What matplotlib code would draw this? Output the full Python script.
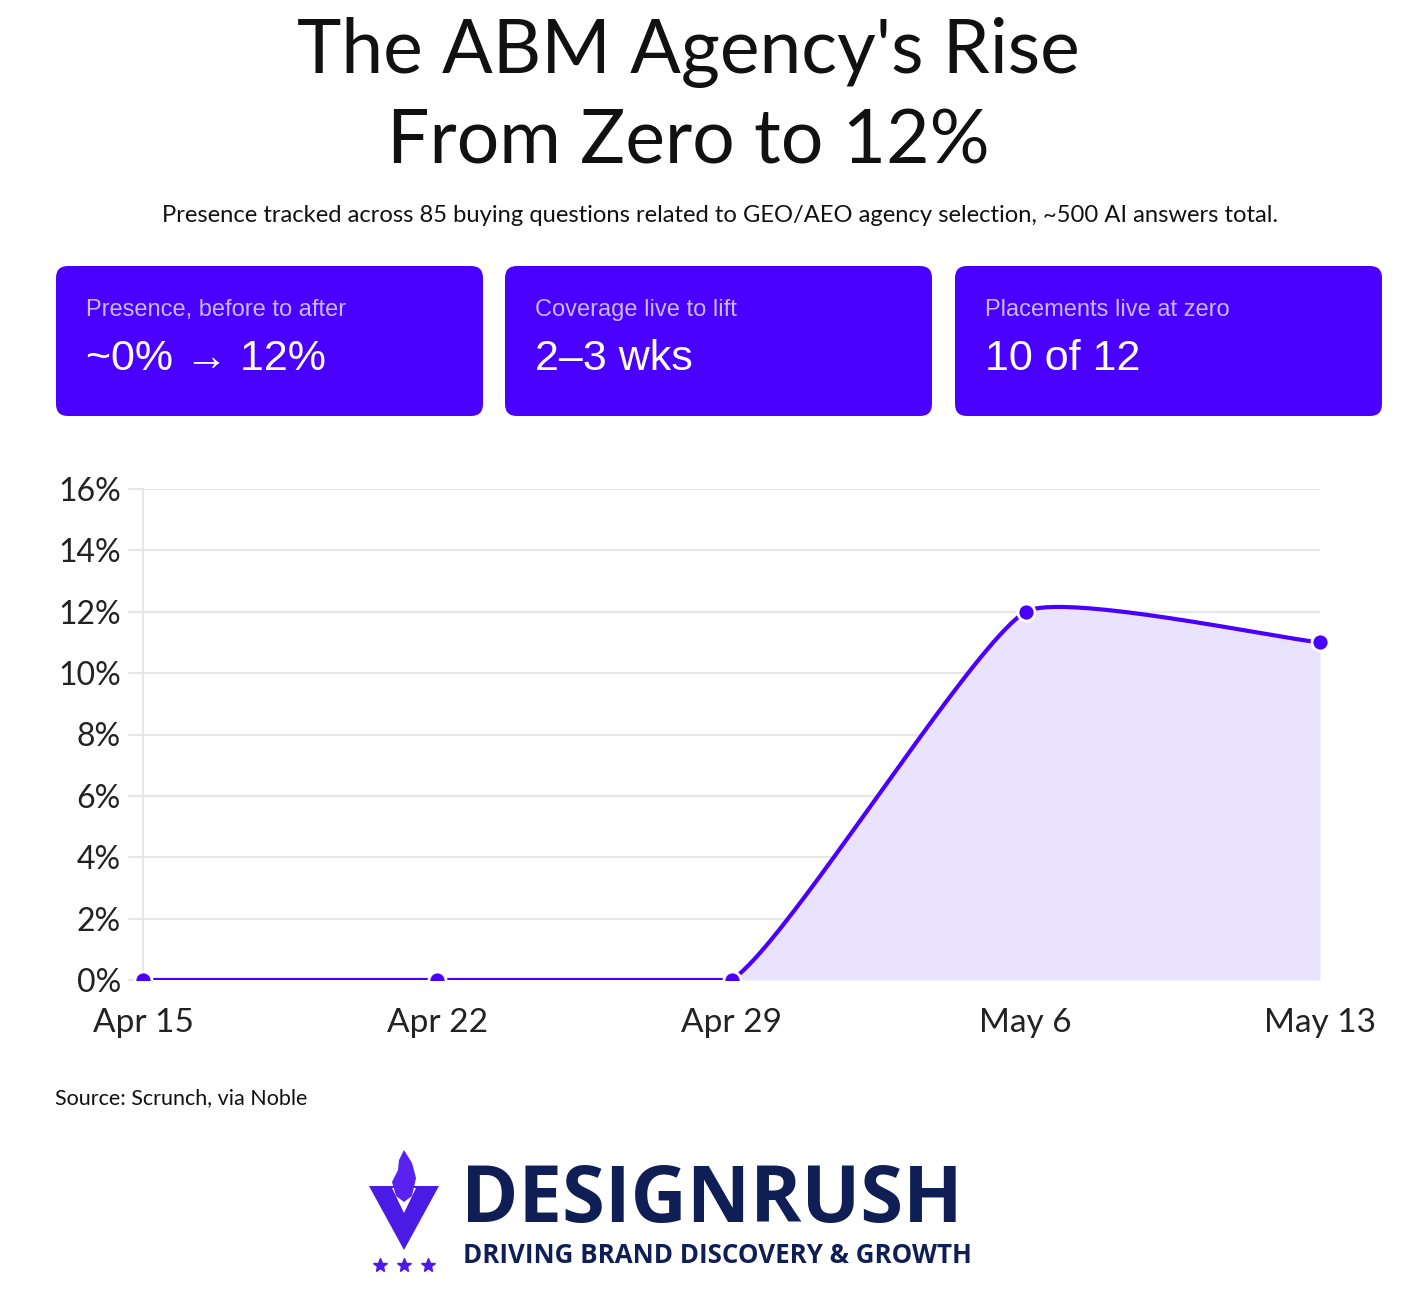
import numpy as np
import matplotlib
matplotlib.use("Agg")
import matplotlib.pyplot as plt
from matplotlib.patches import FancyBboxPatch, Polygon, Rectangle

# data
dates = ["Apr 15", "Apr 22", "Apr 29", "May 6", "May 13"]
presence = [0, 0, 0, 12, 11]
y_ticks = [0, 2, 4, 6, 8, 10, 12, 14, 16]
card_labels = ["Presence, before to after", "Coverage live to lift", "Placements live at zero"]
card_values = ["~0% \u2192 12%", "2\u20133 wks", "10 of 12"]

W, H = 1424, 1298
PURPLE = "#4a00ff"
FILL = "#e9e3ff"
GRID = "#e6e6e6"
NAVY = "#0f1f55"

fig = plt.figure(figsize=(W / 100, H / 100), dpi=100)

# overlay in pixel coordinates for titles, cards and logo
ov = fig.add_axes([0, 0, 1, 1])
ov.set_xlim(0, W)
ov.set_ylim(H, 0)
ov.axis("off")

ov.text(688, 53, "The ABM Agency's Rise", ha="center", va="center",
        fontsize=54, family="Lato", color="#111111")
ov.text(688, 142, "From Zero to 12%", ha="center", va="center",
        fontsize=54, family="Lato", color="#111111")
ov.text(720, 215, "Presence tracked across 85 buying questions related to GEO/AEO agency selection, ~500 AI answers total.",
        ha="center", va="center", fontsize=17.1, family="Lato", color="#111111")

card_x = [56, 505, 955]
for cx, lab, val in zip(card_x, card_labels, card_values):
    ov.add_patch(FancyBboxPatch((cx + 12, 266 + 12), 427 - 24, 150 - 24,
                                boxstyle="round,pad=12", fc=PURPLE, ec="none"))
    ov.text(cx + 30, 310, lab, ha="left", va="center", fontsize=17,
            family=["Liberation Sans", "DejaVu Sans"], color="#c9b8ff")
    ov.text(cx + 30, 359, val, ha="left", va="center", fontsize=31,
            family=["Liberation Sans", "DejaVu Sans"], color="white")

ov.text(55, 1098, "Source: Scrunch, via Noble", ha="left", va="center",
        fontsize=15.5, family="Lato", color="#111111")

# logo
ov.add_patch(Polygon([(369, 1186), (439, 1186), (404, 1250)], closed=True, fc="#4b1be6", ec="none"))
ov.add_patch(Polygon([(392, 1188), (416, 1188), (404, 1213)], closed=True, fc="white", ec="none"))
flame = [(404, 1150), (412, 1163), (416, 1178), (412, 1196), (404, 1202),
         (396, 1196), (392, 1182), (398, 1170), (399, 1160)]
ov.add_patch(Polygon(flame, closed=True, fc="#5a22f0", ec="none"))
ov.plot([380, 404, 428], [1265, 1265, 1265], ls="none", marker="*", ms=10, color="#4b1be6")
ov.text(461, 1222, "DESIGNRUSH", ha="left", va="baseline", fontsize=56,
        family="Open Sans", weight="bold", color=NAVY)
ov.text(463, 1263, "DRIVING BRAND DISCOVERY & GROWTH", ha="left", va="baseline",
        fontsize=18.6, family="Open Sans", weight="bold", color=NAVY)

# chart
ax = fig.add_axes([143 / W, 1 - 980 / H, (1320 - 143) / W, (980 - 489) / H])
x = np.arange(len(dates))
y = np.array(presence, dtype=float)

# smooth curve through points (cardinal-style bezier, computed in pixel scale)
sx, sy = (1320 - 143) / 4, (980 - 489) / 16
P = np.column_stack([x * sx, y * sy])
tension = 0.15
n = len(P)
cp_in, cp_out = [], []
for i in range(n):
    prev = P[i - 1] if i > 0 else P[i]
    nxt = P[i + 1] if i < n - 1 else P[i]
    d01 = np.hypot(*(P[i] - prev))
    d12 = np.hypot(*(nxt - P[i]))
    tot = d01 + d12
    s01 = d01 / tot if tot else 0
    s12 = d12 / tot if tot else 0
    a = P[i] - tension * s01 * (nxt - prev)
    b = P[i] + tension * s12 * (nxt - prev)
    a[1] = min(max(a[1], 0), 16 * sy)
    b[1] = min(max(b[1], 0), 16 * sy)
    cp_in.append(a)
    cp_out.append(b)
ts = np.linspace(0, 1, 80)[:, None]
curve = []
for i in range(n - 1):
    p0, p1, p2, p3 = P[i], cp_out[i], cp_in[i + 1], P[i + 1]
    seg = ((1 - ts) ** 3) * p0 + 3 * ((1 - ts) ** 2) * ts * p1 + 3 * (1 - ts) * ts ** 2 * p2 + ts ** 3 * p3
    curve.append(seg)
curve = np.vstack(curve)
cx_, cy_ = curve[:, 0] / sx, curve[:, 1] / sy

ax.fill_between(cx_, cy_, 0, color=FILL, lw=0, zorder=1)
ax.plot(cx_, cy_, color=PURPLE, lw=3, zorder=3, solid_capstyle="round")
pts = ax.scatter(x, y, s=150, color=PURPLE, edgecolor="white", linewidth=2, zorder=4)
# clip only below the x axis, let the end marker spill over the right edge
pts.set_clip_path(Rectangle((-0.05, 0), 1.1, 1.2, transform=ax.transAxes))

ax.set_xlim(0, 4)
ax.set_ylim(0, 16)
ax.set_yticks(y_ticks)
ax.set_yticklabels([f"{v}%" for v in y_ticks])
ax.set_xticks(x)
ax.set_xticklabels(dates)
ax.grid(axis="y", color=GRID, lw=1.5)
ax.set_axisbelow(True)
for s in ["top", "right", "bottom"]:
    ax.spines[s].set_visible(False)
ax.spines["left"].set_color(GRID)
ax.spines["left"].set_linewidth(1.5)
ax.tick_params(axis="y", length=11, width=1.5, color=GRID, pad=5, labelsize=23, labelcolor="#222222")
ax.tick_params(axis="x", length=0, pad=20, labelsize=24, labelcolor="#222222")
for lab in ax.get_xticklabels() + ax.get_yticklabels():
    lab.set_family("Lato")

fig.savefig("out.png", dpi=100)
